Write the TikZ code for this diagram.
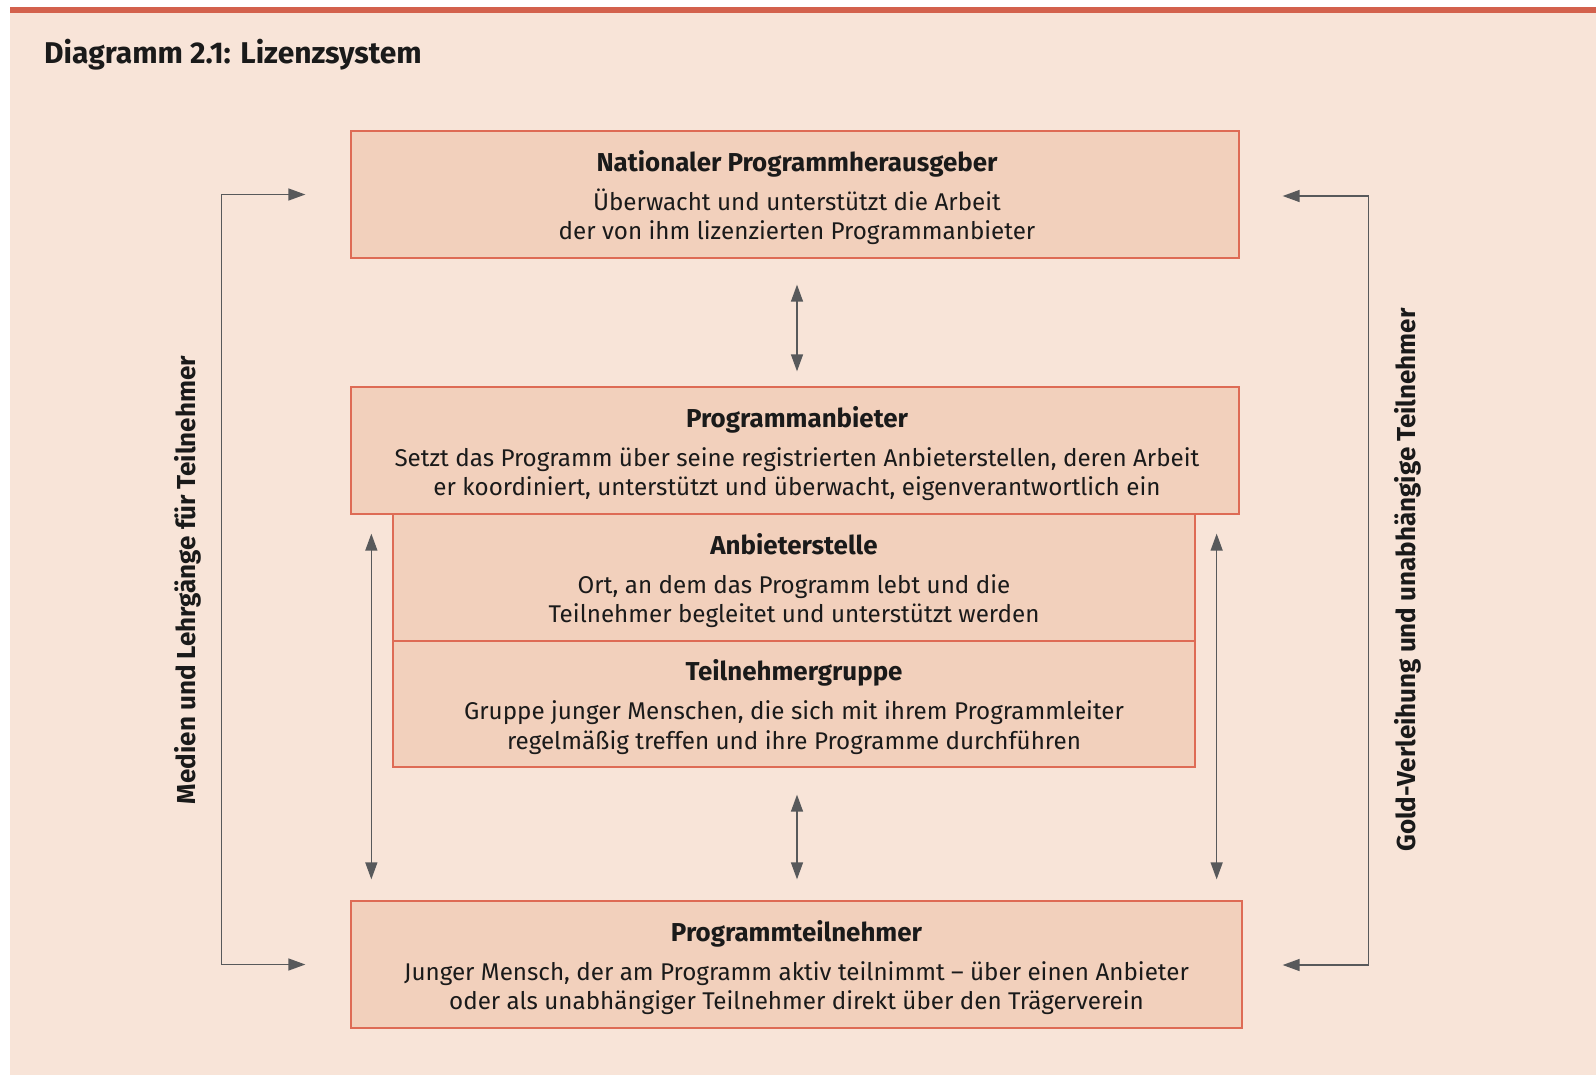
\documentclass[tikz,border=0pt]{standalone}
\usepackage{fontspec}
\setmainfont{Fira Sans}
\usetikzlibrary{arrows.meta,calc}
\definecolor{bg}{HTML}{F8E4D8}
\definecolor{boxfill}{HTML}{F2D0BC}
\definecolor{boxline}{HTML}{DE6B55}
\definecolor{redbar}{HTML}{D3614D}
\definecolor{arrowgray}{HTML}{58595B}
\definecolor{txt}{HTML}{1A1A1A}
\tikzset{
  box/.style={draw=boxline, fill=boxfill, line width=1.3pt, inner sep=0pt},
  boxtext/.style={align=center, text=txt, inner sep=0pt, font=\fontsize{24.2}{29.5}\selectfont},
  dbl/.style={{Triangle[length=17pt,width=12pt]}-{Triangle[length=17pt,width=12pt]},
              draw=arrowgray, line width=1.4pt},
  sidelabel/.style={rotate=90, text=txt, font=\fontsize{26}{30}\selectfont\bfseries},
}
\newcommand{\hd}[1]{{\fontsize{25.9}{30}\selectfont\bfseries #1}\\[9.5pt]}
\begin{document}
\begin{tikzpicture}[x=1pt,y=-1pt]
\useasboundingbox (0,0) rectangle (1596,1080);
\fill[bg] (10,7) rectangle (1596,1075);
\fill[redbar] (10,7) rectangle (1596,13);
\node[anchor=base west, text=txt, inner sep=0pt, font=\fontsize{30}{34}\selectfont\bfseries] (title) at (44,63) {Diagramm 2.1: Lizenzsystem};

\node[box, minimum width=888pt, minimum height=127pt] (nat) at (795,194.5) {};
\node[box, minimum width=888pt, minimum height=127pt] (prog) at (795,450.5) {};
\node[box, minimum width=802pt, minimum height=127pt] (anb) at (794,577.5) {};
\node[box, minimum width=802pt, minimum height=126pt] (tg) at (794,704) {};
\node[box, minimum width=891pt, minimum height=127pt] (teil) at (796.5,964.5) {};

\node[boxtext] (natT) at ($(nat.center)+(2,3)$)
  {\hd{Nationaler Programmherausgeber}Überwacht und unterstützt die Arbeit\\der von ihm lizenzierten Programmanbieter};
\node[boxtext] (progT) at ($(prog.center)+(2,3)$)
  {\hd{Programmanbieter}Setzt das Programm über seine registrierten Anbieterstellen, deren Arbeit\\er koordiniert, unterstützt und überwacht, eigenverantwortlich ein};
\node[boxtext] (anbT) at ($(anb.center)+(0,3)$)
  {\hd{Anbieterstelle}Ort, an dem das Programm lebt und die\\Teilnehmer begleitet und unterstützt werden};
\node[boxtext] (tgT) at ($(tg.center)+(0,3)$)
  {\hd{Teilnehmergruppe}Gruppe junger Menschen, die sich mit ihrem Programmleiter\\regelmäßig treffen und ihre Programme durchführen};
\node[boxtext] (teilT) at ($(teil.center)+(0,3)$)
  {\hd{Programmteilnehmer}Junger Mensch, der am Programm aktiv teilnimmt – über einen Anbieter\\oder als unabhängiger Teilnehmer direkt über den Trägerverein};

\node[sidelabel] (labL) at (188,580) {Medien und Lehrgänge für Teilnehmer};
\node[sidelabel] (labR) at (1408,580) {Gold-Verleihung und unabhängige Teilnehmer};

\draw[dbl] ($(nat.south)+(2,26)$) -- ($(prog.north)+(2,-15)$);
\draw[dbl] ($(tg.south)+(3,27)$) -- ($(teil.north)+(0.5,-21)$);
\draw[dbl] ($(prog.south west)+(21,19)$) -- ($(teil.north west)+(21,-21)$);
\draw[dbl] ($(prog.south east)+(-23,19)$) -- ($(teil.north east)+(-26,-21)$);
\draw[dbl] ($(nat.west)+(-45,0)$) -- ++(-84,0) |- ($(teil.west)+(-45,0)$);
\draw[dbl] ($(nat.east)+(43,1.5)$) -- ++(86,0) |- ($(teil.east)+(40,0.5)$);
\end{tikzpicture}
\end{document}
